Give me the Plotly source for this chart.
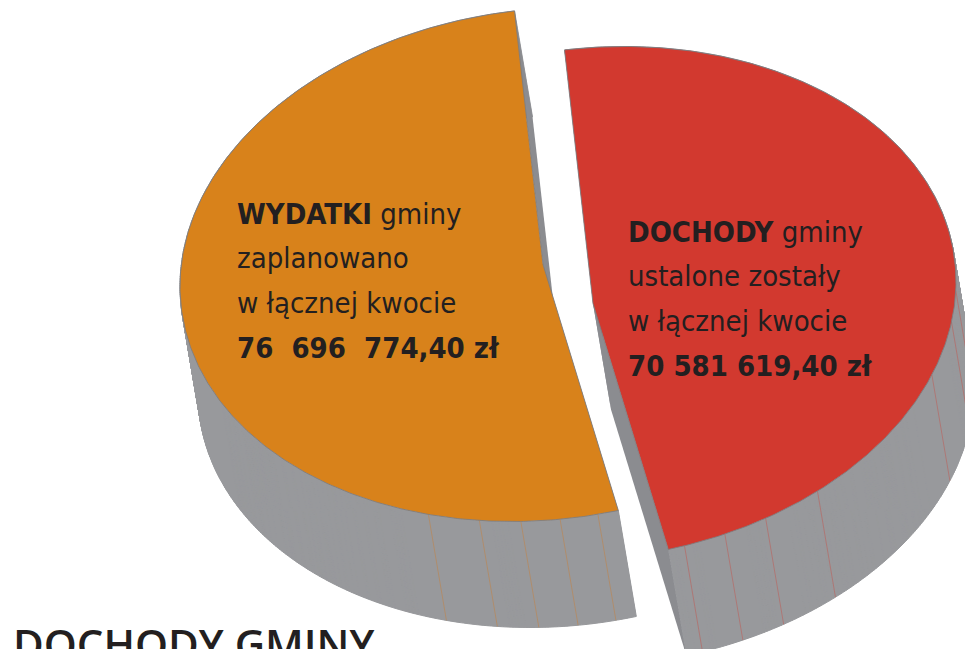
import numpy as np
import plotly.graph_objects as go

# ---------------- data ----------------
categories = ["WYDATKI", "DOCHODY"]
values = [76696774.40, 70581619.40]
line1_suffix = ["gminy", "gminy"]
line2_texts = ["zaplanowano", "ustalone zostały"]
line3_texts = ["w łącznej kwocie", "w łącznej kwocie"]
amount_labels = ["76\u00a0 696\u00a0 774,40 zł", "70 581 619,40 zł"]
title_text = "DOCHODY GMINY"

# ---------------- style / geometry ----------------
TOP_COLORS = ["#d8821b", "#d2392f"]
FACET_COLORS = ["rgba(205,125,45,0.55)", "rgba(205,70,60,0.5)"]
SIDE_GRAY = "#98999c"
CUT_GRAY = "#8b8c90"
EDGE = "rgba(125,125,128,0.85)"
TEXT = "#231f20"
LABEL_FONT = "DejaVu Sans Condensed, DejaVu Sans, sans-serif"
LABEL_SIZE = 29
LINE_STEP = 44.6
TITLE_FONT = "Open Sans, Noto Sans, sans-serif"

W, H = 965, 649
CX, CY = 568.0, 284.0            # pie centre (pixels)
RX, RY = 363.0, 257.0            # ellipse radii
TILT = np.radians(4.9)           # ellipse tilt
DEPTH = np.array([18.0, 106.0])  # oblique extrusion of the side
EXPLODE = np.array([25.0, 19.5]) # offset of each slice from centre
START_DEG = 265.5                # where the DOCHODY slice begins (clockwise)
EXPLODE_SIGN = [-1.0, 1.0]
FACET_DEG = [[81.3, 87.3, 93.5, 100.1, 108.4],
             [75.4, 68.7, 61.6, 51.8, 21.0, 9.0, 2.0]]
LABEL_X = [235, 626]
LABEL_BASE = [225.0, 243.0]      # baseline of the first label line

total = sum(values)
span_red = 360.0 * values[1] / total
slice_ranges = [(START_DEG + span_red, START_DEG + 360.0),   # WYDATKI
                (START_DEG, START_DEG + span_red)]           # DOCHODY


def ell(t_deg, off):
    t = np.radians(np.asarray(t_deg, dtype=float))
    return (CX + off[0] + RX * np.cos(t),
            CY + off[1] + RY * np.sin(t - TILT))


def dell(t_deg):
    t = np.radians(t_deg)
    return np.array([-RX * np.sin(t), RY * np.cos(t - TILT)])


fig = go.Figure()


def poly(xs, ys, fill, line_color=None, lw=0.0):
    fig.add_trace(go.Scatter(
        x=list(xs), y=list(ys), mode="lines", fill="toself",
        fillcolor=fill, line=dict(color=line_color or fill, width=lw),
        hoverinfo="skip", showlegend=False))


hidden_cuts, visible_cuts = [], []
for i, (a, b) in enumerate(slice_ranges):
    off = EXPLODE * EXPLODE_SIGN[i]
    c = np.array([CX, CY]) + off
    for ang, s in ((a, 1.0), (b, -1.0)):
        e = np.array(ell(ang, off))
        edir = e - c
        n = np.array([-edir[1], edir[0]])
        w = s * dell(ang)
        if n @ w < 0:
            n = -n
        quad = [c, e, e + DEPTH, c + DEPTH, c]
        (visible_cuts if n @ DEPTH < 0 else hidden_cuts).append(quad)

# 1. hidden cut faces
for q in hidden_cuts:
    poly([p[0] for p in q], [p[1] for p in q], CUT_GRAY)

# 2. outer sides, built from thin facets
for i, (a, b) in enumerate(slice_ranges):
    off = EXPLODE * EXPLODE_SIGN[i]
    ts = np.linspace(a, b, int(round(b - a)) * 2 + 1)
    px, py = ell(ts, off)
    xs, ys = [], []
    for k in range(len(ts) - 1):
        xs += [px[k], px[k + 1], px[k + 1] + DEPTH[0], px[k] + DEPTH[0], px[k], None]
        ys += [py[k], py[k + 1], py[k + 1] + DEPTH[1], py[k] + DEPTH[1], py[k], None]
    poly(xs, ys, SIDE_GRAY, SIDE_GRAY, 1.0)

# 3. faint facet lines on the sides
for i in range(2):
    off = EXPLODE * EXPLODE_SIGN[i]
    xs, ys = [], []
    for t in FACET_DEG[i]:
        x0, y0 = ell(t, off)
        xs += [x0, x0 + DEPTH[0], None]
        ys += [y0, y0 + DEPTH[1], None]
    fig.add_trace(go.Scatter(x=xs, y=ys, mode="lines",
                             line=dict(color=FACET_COLORS[i], width=0.8),
                             hoverinfo="skip", showlegend=False))

# 4. visible cut faces
for q in visible_cuts:
    poly([p[0] for p in q], [p[1] for p in q], CUT_GRAY)

# 5. top faces
for i, (a, b) in enumerate(slice_ranges):
    off = EXPLODE * EXPLODE_SIGN[i]
    ts = np.linspace(a, b, int(round(b - a)) * 2 + 1)
    px, py = ell(ts, off)
    c = np.array([CX, CY]) + off
    xs = [c[0]] + list(px) + [c[0]]
    ys = [c[1]] + list(py) + [c[1]]
    poly(xs, ys, TOP_COLORS[i], EDGE, 1.0)

# 6. labels, one annotation per line so the line spacing matches
DESC = 0.236 * LABEL_SIZE + 1.0
for i, cat in enumerate(categories):
    lines = [f"<b>{cat}</b> {line1_suffix[i]}", line2_texts[i],
             line3_texts[i], f"<b>{amount_labels[i]}</b>"]
    for k, ln in enumerate(lines):
        fig.add_annotation(x=LABEL_X[i], y=LABEL_BASE[i] + k * LINE_STEP + DESC,
                           xref="x", yref="y", text=ln, showarrow=False,
                           xanchor="left", yanchor="bottom", align="left",
                           font=dict(family=LABEL_FONT, size=LABEL_SIZE, color=TEXT))

fig.add_annotation(x=11, y=613, xref="x", yref="y", text=title_text,
                   showarrow=False, xanchor="left", yanchor="top", align="left",
                   font=dict(family=TITLE_FONT, size=42, color=TEXT, weight=600))

fig.update_layout(
    width=W, height=H, autosize=False,
    margin=dict(l=0, r=0, t=0, b=0),
    paper_bgcolor="white", plot_bgcolor="white",
    showlegend=False,
    xaxis=dict(range=[0, W], visible=False, fixedrange=True),
    yaxis=dict(range=[H, 0], visible=False, fixedrange=True),
)

fig.write_html("out.html", config={"displayModeBar": False},
               post_script="document.body.style.margin='0';document.body.style.overflow='hidden';")
